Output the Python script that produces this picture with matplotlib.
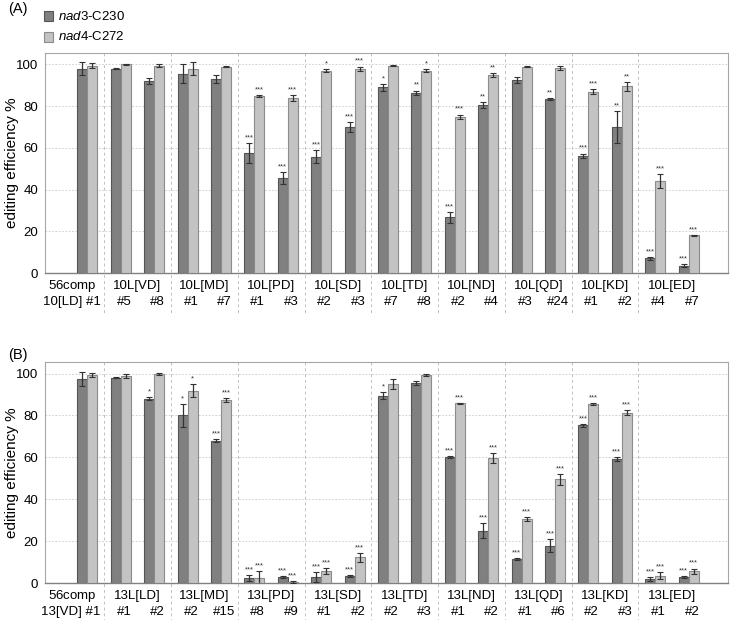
import matplotlib
matplotlib.use('Agg')
import matplotlib.pyplot as plt
import matplotlib.patches as mpatches
import matplotlib.transforms as mtransforms
import numpy as np

plt.rcParams['font.family'] = ['Liberation Sans', 'DejaVu Sans']
plt.rcParams['mathtext.fontset'] = 'custom'
plt.rcParams['mathtext.rm'] = 'Liberation Sans'
plt.rcParams['mathtext.it'] = 'Liberation Sans:italic'

# --- data: panel A ---
groups_A = ['10L[VD]', '10L[MD]', '10L[PD]', '10L[SD]', '10L[TD]',
            '10L[ND]', '10L[QD]', '10L[KD]', '10L[ED]']
lines_A = ['#5', '#8', '#1', '#7', '#1', '#3', '#2', '#3', '#7', '#8',
           '#2', '#4', '#3', '#24', '#1', '#2', '#4', '#7']
nad3_A = [98, 98, 92, 95.5, 93, 57.6, 45.5, 55.8, 70, 89, 86.5,
          26.7, 80.5, 92.5, 83.5, 56.3, 70, 7.0, 3.5]
nad3_err_A = [3, 0.3, 1.5, 4.5, 2, 4.8, 2.8, 3, 2.5, 1.5, 1,
              2.5, 1.5, 1.5, 0.6, 1, 7.5, 0.7, 0.8]
nad4_A = [99.5, 100, 99.3, 98, 99, 85, 84, 97, 98, 99.5, 97,
          75, 95, 99, 98.5, 87, 89.5, 44, 18]
nad4_err_A = [1, 0.2, 0.7, 3, 0.3, 0.5, 1.5, 0.7, 1, 0.3, 0.7,
              1, 1, 0.3, 1, 1, 2, 3.3, 0.3]
sig3_A = ['', '', '', '', '', '***', '***', '***', '***', '*', '**',
          '***', '**', '', '**', '***', '**', '***', '***']
sig4_A = ['', '', '', '', '', '***', '***', '*', '***', '', '*',
          '***', '**', '', '', '***', '**', '***', '***']

# --- data: panel B ---
groups_B = ['13L[LD]', '13L[MD]', '13L[PD]', '13L[SD]', '13L[TD]',
            '13L[ND]', '13L[QD]', '13L[KD]', '13L[ED]']
lines_B = ['#1', '#2', '#2', '#15', '#8', '#9', '#1', '#2', '#2', '#3',
           '#1', '#2', '#1', '#6', '#2', '#3', '#1', '#2']
nad3_B = [97.5, 98, 88, 80, 68, 2.5, 3, 3, 3.2, 89.5, 95.5,
          60.2, 25, 11.3, 17.8, 75.2, 59.3, 1.8, 2.9]
nad3_err_B = [3.3, 0.3, 0.8, 5.5, 0.8, 1.5, 0.4, 2.3, 0.5, 1.5, 1,
              0.5, 3.7, 0.5, 3, 0.8, 1, 1, 0.3]
nad4_B = [99.3, 99, 99.8, 91.8, 87.4, 2.5, 0.5, 5.6, 12.3, 95, 99.3,
          85.8, 59.7, 30.7, 49.5, 85.6, 81.3, 3.5, 5.6]
nad4_err_B = [1, 1, 0.3, 3.2, 0.8, 3, 0.3, 1.5, 2.2, 2.5, 0.3,
              0.3, 2.5, 1, 2.5, 0.5, 1.2, 1.8, 1.3]
sig3_B = ['', '', '*', '*', '***', '***', '***', '***', '***', '*', '',
          '***', '***', '***', '***', '***', '***', '***', '***']
sig4_B = ['', '', '', '*', '***', '***', '***', '***', '***', '', '',
          '***', '***', '***', '***', '***', '***', '***', '***']

DARK = '#808080'
LIGHT = '#c3c3c3'
W, H = 731, 620


def draw_panel(ax, groups, lines, ctrl_label, v3, e3, v4, e4, s3, s4):
    x = np.arange(len(v3))
    bw = 0.3
    ax.bar(x - bw / 2, v3, bw, color=DARK, edgecolor='#555555', linewidth=0.8, zorder=3)
    ax.bar(x + bw / 2, v4, bw, color=LIGHT, edgecolor='#8c8c8c', linewidth=0.8, zorder=3)
    ax.errorbar(x - bw / 2, v3, yerr=e3, fmt='none', ecolor='#333333',
                elinewidth=0.9, capsize=2.5, capthick=0.8, zorder=4)
    ax.errorbar(x + bw / 2, v4, yerr=e4, fmt='none', ecolor='#333333',
                elinewidth=0.9, capsize=2.5, capthick=0.8, zorder=4)
    for xi, v, e, s in zip(x - bw / 2, v3, e3, s3):
        if s:
            ax.text(xi, v + e + 0.8, s, ha='center', va='bottom', fontsize=5.5, color='#333333')
    for xi, v, e, s in zip(x + bw / 2, v4, e4, s4):
        if s:
            ax.text(xi, v + e + 0.8, s, ha='center', va='bottom', fontsize=5.5, color='#333333')

    ax.set_xlim(-1.27, 19.18)
    ax.set_ylim(0, 105.5)
    ax.set_yticks([0, 20, 40, 60, 80, 100])
    ax.tick_params(axis='y', length=0, labelsize=9.5, pad=5)
    ax.set_xticks([])
    ax.grid(axis='y', linestyle=(0, (2, 2)), color='#c8c8c8', linewidth=0.6, zorder=0)
    for sp in ['top', 'left', 'right']:
        ax.spines[sp].set_color('#a6a6a6')
        ax.spines[sp].set_linewidth(0.8)
    ax.spines['bottom'].set_color('#808080')
    ax.spines['bottom'].set_linewidth(1.0)
    ax.set_ylabel('editing efficiency %', fontsize=11)
    ax.yaxis.set_label_coords(-0.038, 0.5)

    # block separators
    trans = mtransforms.blended_transform_factory(ax.transData, ax.transAxes)
    for b in np.arange(0.5, 17, 2):
        ax.plot([b, b], [1, -0.19], transform=trans, clip_on=False,
                color='#c0c0c0', linestyle=(0, (3, 3)), linewidth=0.7, zorder=1)

    # category labels
    r1, r2 = -0.058, -0.13
    ax.text(-0.45, r1, r'$\it{56}$comp', transform=trans, ha='center', va='center', fontsize=9.5)
    ax.text(0.4, r2, ctrl_label, transform=trans, ha='right', va='center', fontsize=9.5)
    for i, g in enumerate(groups):
        ax.text(1.5 + 2 * i, r1, g, transform=trans, ha='center', va='center', fontsize=9.5)
    for i, l in enumerate(lines):
        ax.text(1.1 + i, r2, l, transform=trans, ha='center', va='center', fontsize=9.5)


fig = plt.figure(figsize=(W / 100, H / 100), dpi=100)
ax_a = fig.add_axes([45 / W, 1 - 273 / H, 683 / W, 220 / H])
ax_b = fig.add_axes([45 / W, 1 - 583 / H, 683 / W, 221 / H])

draw_panel(ax_a, groups_A, lines_A, '10[LD] #1', nad3_A, nad3_err_A, nad4_A, nad4_err_A, sig3_A, sig4_A)
draw_panel(ax_b, groups_B, lines_B, '13[VD] #1', nad3_B, nad3_err_B, nad4_B, nad4_err_B, sig3_B, sig4_B)

fig.text(8 / W, 1 - 9 / H, '(A)', fontsize=10.5, ha='left', va='center')
fig.text(8 / W, 1 - 355 / H, '(B)', fontsize=10.5, ha='left', va='center')

# legend
for yc, col, ec, lab in [(16, DARK, '#555555', r'$\it{nad3}$-C230'),
                         (37, LIGHT, '#8c8c8c', r'$\it{nad4}$-C272')]:
    fig.add_artist(mpatches.Rectangle((44 / W, 1 - (yc + 4.5) / H), 9 / W, 9 / H,
                                      transform=fig.transFigure, facecolor=col,
                                      edgecolor=ec, linewidth=0.8))
    fig.text(58 / W, 1 - yc / H, lab, fontsize=9.5, ha='left', va='center')

plt.savefig('out.png', dpi=100)
plt.close()
